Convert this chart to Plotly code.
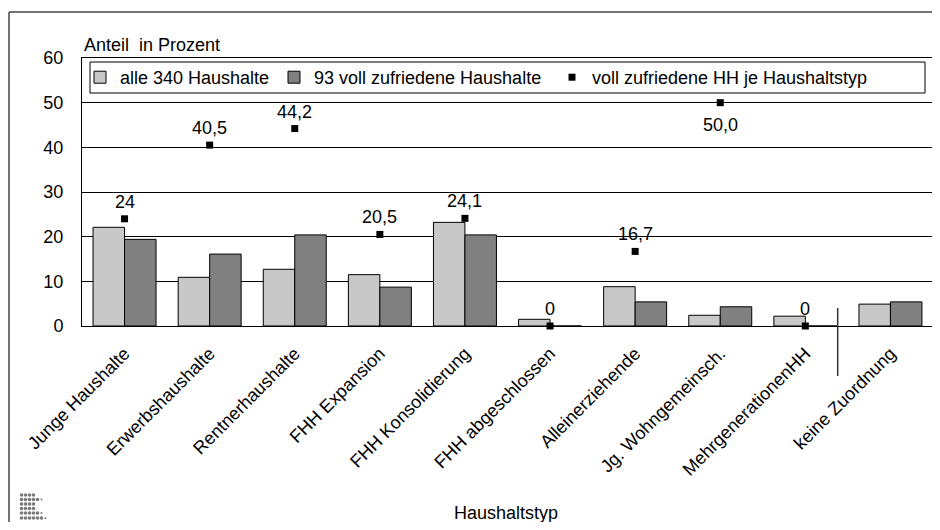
import plotly.graph_objects as go

categories = ["Junge Haushalte", "Erwerbshaushalte", "Rentnerhaushalte", "FHH Expansion",
              "FHH Konsolidierung", "FHH abgeschlossen", "Alleinerziehende",
              "Jg. Wohngemeinsch.", "MehrgenerationenHH", "keine Zuordnung"]
alle_340 = [22.1, 10.9, 12.7, 11.5, 23.2, 1.5, 8.8, 2.4, 2.2, 4.9]
voll_93 = [19.4, 16.1, 20.4, 8.7, 20.4, 0.0, 5.4, 4.3, 0.0, 5.4]
je_typ = [24, 40.5, 44.2, 20.5, 24.1, 0, 16.7, 50.0, 0, None]
je_typ_labels = ["24", "40,5", "44,2", "20,5", "24,1", "0", "16,7", "50,0", "0", ""]
label_below = [False, False, False, False, False, False, False, True, False, False]

FONT = "Liberation Sans, Arial, Helvetica, sans-serif"
FS = 18
OFF = 8  # browser body margin
W, H = 940 - OFF, 530 - 2 * OFF
L, R, T, B = 82 - OFF, 7, 58 - OFF, 204 - OFF
PW, PH = W - L - R, H - T - B


def px_x(px):
    return (px - OFF - L) / PW


def px_y(py):
    return (H - B - (py - OFF)) / PH


fig = go.Figure()
fig.add_trace(go.Bar(x=categories, y=alle_340, name="alle 340 Haushalte",
                     marker=dict(color="#c8c8c8", line=dict(color="black", width=1)),
                     legend="legend"))
fig.add_trace(go.Bar(x=categories, y=voll_93, name="93 voll zufriedene Haushalte",
                     marker=dict(color="#808080", line=dict(color="black", width=1)),
                     legend="legend2"))
fig.add_trace(go.Scatter(x=categories, y=je_typ, mode="markers",
                         name="voll zufriedene HH je Haushaltstyp",
                         marker=dict(symbol="square", size=7, color="black"),
                         cliponaxis=False, legend="legend3"))

shapes = []
# legend frame
shapes.append(dict(type="rect", xref="paper", yref="paper",
                   x0=px_x(90), x1=px_x(925), y0=px_y(93), y1=px_y(62),
                   line=dict(color="black", width=1), fillcolor="white", layer="below"))
# separator line
shapes.append(dict(type="line", xref="x", yref="paper", x0=8.38, x1=8.38,
                   y0=px_y(308), y1=px_y(376), line=dict(color="#333", width=1.5)))
# outer frame (top and left)
shapes.append(dict(type="line", xref="paper", yref="paper", x0=px_x(9), x1=px_x(942),
                   y0=px_y(12), y1=px_y(12), line=dict(color="#444", width=1.5)))
shapes.append(dict(type="line", xref="paper", yref="paper", x0=px_x(9), x1=px_x(9),
                   y0=px_y(12), y1=px_y(532), line=dict(color="#444", width=1.5)))
# logo dots
logo_rows = [495, 499.5, 504, 508.5, 513, 518]
logo_counts = [4, 5, 4, 4, 5, 6]
logo_cols = [21.5, 25.5, 29.5, 33.5, 37.5, 41.5, 45.5]
for ry, cnt in zip(logo_rows, logo_counts):
    for cx in logo_cols[:cnt]:
        shapes.append(dict(type="circle", xref="paper", yref="paper",
                           x0=px_x(cx - 1.8), x1=px_x(cx + 1.8),
                           y0=px_y(ry + 1.8), y1=px_y(ry - 1.8),
                           line=dict(width=0), fillcolor="#7a7a7a"))
    if cnt in (5, 6):
        cx = logo_cols[cnt] if cnt < len(logo_cols) else logo_cols[-1] + 4
        shapes.append(dict(type="circle", xref="paper", yref="paper",
                           x0=px_x(cx - 1), x1=px_x(cx + 1),
                           y0=px_y(ry + 1), y1=px_y(ry - 1),
                           line=dict(width=0), fillcolor="#7a7a7a"))

annotations = [
    dict(text="Anteil\u00a0 in Prozent", xref="paper", yref="paper", x=0, y=px_y(45),
         xanchor="left", yanchor="middle", showarrow=False,
         font=dict(size=FS, color="black", family=FONT)),
    dict(text="Haushaltstyp", xref="paper", yref="paper", x=px_x(506), y=px_y(513),
         xanchor="center", yanchor="middle", showarrow=False,
         font=dict(size=FS, color="black", family=FONT)),
]
for cat, val, lab, below in zip(categories, je_typ, je_typ_labels, label_below):
    if val is None:
        continue
    annotations.append(dict(text=lab, x=cat, y=val, xref="x", yref="y",
                            showarrow=False, xanchor="center", yanchor="middle",
                            yshift=-22 if below else 17,
                            font=dict(size=FS, color="black", family=FONT)))

leg_common = dict(orientation="h", bgcolor="rgba(0,0,0,0)", borderwidth=0,
                  font=dict(size=FS, color="black", family=FONT),
                  xanchor="left", yanchor="middle", y=px_y(77.5), itemwidth=30)

fig.update_layout(
    width=W, height=H,
    margin=dict(l=L, r=R, t=T, b=B, autoexpand=False),
    paper_bgcolor="white", plot_bgcolor="white",
    font=dict(family=FONT, size=FS, color="black"),
    barmode="group", bargap=0.26, bargroupgap=0,
    showlegend=True,
    legend=dict(x=px_x(80), **leg_common),
    legend2=dict(x=px_x(274), **leg_common),
    legend3=dict(x=px_x(552), **leg_common),
    shapes=shapes, annotations=annotations,
    xaxis=dict(showline=True, linecolor="black", linewidth=1, mirror=True,
               range=[-0.5, len(categories) - 0.5], autorange=False,
               tickangle=-45, ticks="", showgrid=False, ticklabelstandoff=9,
               tickfont=dict(size=FS, color="black", family=FONT)),
    yaxis=dict(range=[0, 60], dtick=10, showline=True, linecolor="black", linewidth=1,
               mirror=True, showgrid=True, gridcolor="black", gridwidth=1,
               ticks="", ticklabelstandoff=14, zeroline=False,
               tickfont=dict(size=FS, color="black", family=FONT)),
)

fig.write_html("out.html")
